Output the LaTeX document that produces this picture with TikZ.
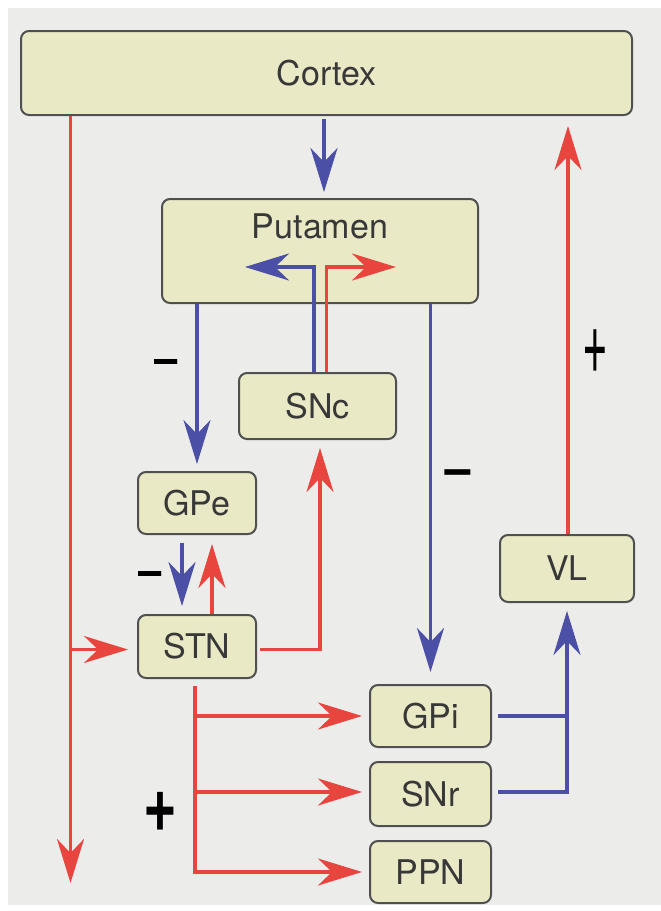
\documentclass[tikz,border=0pt]{standalone}
\usepackage{fontspec}
\setmainfont{TeX Gyre Heros}
\usetikzlibrary{arrows.meta}
\definecolor{bg}{HTML}{ECECEA}
\definecolor{boxfill}{HTML}{E9E9C6}
\definecolor{boxline}{HTML}{505050}
\definecolor{redc}{HTML}{E8453F}
\definecolor{bluec}{HTML}{4B4FA6}
\definecolor{txt}{HTML}{383838}
\begin{document}
\begin{tikzpicture}[x=1pt,y=-1pt,
  box/.style={draw=boxline, line width=2pt, fill=boxfill, rounded corners=8pt,
    inner sep=0pt, text=txt, font=\fontsize{34}{36}\selectfont},
  link/.style={line width=3.2pt},
  arr/.style={link, -{Stealth[length=44pt,width=27pt,inset=14pt]}},
  rline/.style={link, draw=redc},
  bline/.style={link, draw=bluec},
  rarr/.style={arr, draw=redc},
  barr/.style={arr, draw=bluec},
  sign/.style={inner sep=0pt, text=black}
]
\useasboundingbox (0,0) rectangle (661,911);
\fill[white] (0,0) rectangle (661,911);
\fill[bg] (8,8) rectangle (661,905);

% boxes
\node[box, minimum width=611pt, minimum height=84pt] (cortex) at (326.5,73) {Cortex};
\node[box, minimum width=316pt, minimum height=104pt, text height=39pt, text depth=65pt] (putamen) at (320,251) {Putamen};
\node[box, minimum width=157pt, minimum height=66pt] (snc) at (317.5,406) {SNc};
\node[box, minimum width=118pt, minimum height=62pt] (gpe) at (197,503) {GPe};
\node[box, minimum width=118pt, minimum height=63pt] (stn) at (197,646.5) {STN};
\node[box, minimum width=134pt, minimum height=67pt] (vl) at (567,568.5) {VL};
\node[box, minimum width=121pt, minimum height=62pt] (gpi) at (430.5,716) {GPi};
\node[box, minimum width=121pt, minimum height=64pt] (snr) at (430.5,794) {SNr};
\node[box, minimum width=121pt, minimum height=62pt] (ppn) at (430.5,872) {PPN};

% helper coordinates
\coordinate (c1) at ([xshift=4pt]putamen.north);
\coordinate (pl) at (245,267);
\coordinate (pr) at (396,267);
\coordinate (lb) at (70.5,883);
\coordinate (stns) at ([xshift=-2pt]stn.south);
\coordinate (stnw) at ([yshift=-3pt]stn.west);
\coordinate (stne) at ([yshift=-3pt]stn.east);
\coordinate (sncs) at ([xshift=2.5pt]snc.south);
\coordinate (snrw) at ([yshift=2pt]snr.west);
\coordinate (snre) at ([yshift=2pt]snr.east);
\coordinate (vln) at ([xshift=1pt]vl.north);

% Cortex -> Putamen
\draw[barr, shorten <=3pt, shorten >=6pt] (cortex.south -| c1) -- (c1);
% Putamen -> GPe, GPi
\draw[barr, shorten >=7pt] (putamen.south -| gpe.north) -- (gpe.north);
\draw[barr, shorten >=12pt] (putamen.south -| gpi.north) -- (gpi.north);
% SNc -> Putamen
\draw[barr] ([xshift=-3.5pt]snc.north) |- (pl);
\draw[rarr] ([xshift=9pt]snc.north) |- (pr);
% GPe <-> STN
\draw[barr, shorten <=8pt, shorten >=8pt] ([xshift=-15pt]gpe.south) -- ([xshift=-15pt]stn.north);
\draw[rarr, shorten >=9pt] ([xshift=15pt]stn.north) -- ([xshift=15pt]gpe.south);
% STN -> SNc
\draw[rarr, shorten <=3pt, shorten >=8pt] (stne) -| (sncs);
% Cortex -> down (left)
\draw[rarr] (cortex.south -| lb) -- (lb);
\draw[rarr, shorten >=9pt] (lb |- stnw) -- (stnw);
% STN -> GPi, SNr, PPN
\draw[rarr, shorten <=7pt, shorten >=7pt] (stns) |- (ppn.west);
\draw[rarr, shorten >=7pt] (stns |- gpi.west) -- (gpi.west);
\draw[rarr, shorten >=7pt] (stns |- snrw) -- (snrw);
% GPi, SNr -> VL
\draw[bline, shorten <=6pt] (gpi.east) -- (gpi.east -| vl.south);
\draw[barr, shorten <=6pt, shorten >=8pt] (snre) -| (vl.south);
% VL -> Cortex
\draw[rarr, shorten >=10pt] (vln) -- (cortex.south -| vln);

% signs
\node[sign, font=\fontsize{50}{50}\selectfont\bfseries] (m1) at (166,367) {−};
\node[sign, font=\fontsize{56}{56}\selectfont\bfseries] (m2) at (458,478) {−};
\node[sign, font=\fontsize{50}{50}\selectfont\bfseries] (m3) at (150,579) {−};
\node[sign, font=\fontsize{44}{44}\selectfont] (p1) at (595,352) {\scalebox{1}[2.1]{+}};
\node[sign, font=\fontsize{58}{58}\selectfont\bfseries] (p2) at (160,812) {\scalebox{1}[1.4]{+}};
\end{tikzpicture}
\end{document}
